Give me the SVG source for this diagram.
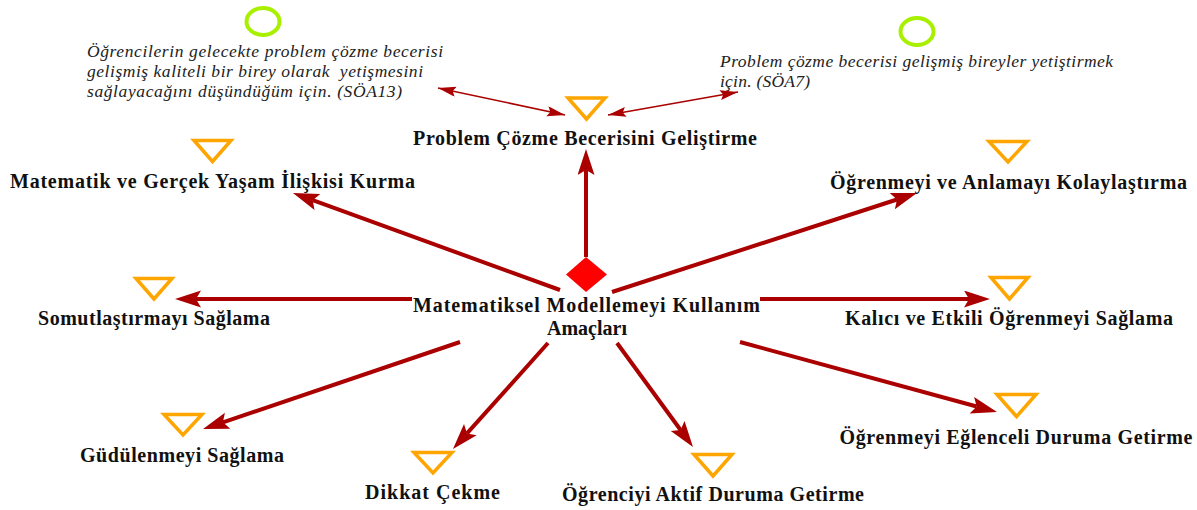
<svg xmlns="http://www.w3.org/2000/svg" width="1197" height="510" viewBox="0 0 1197 510">
<style>
.lbl{font-family:"Liberation Serif","Times New Roman",serif;font-weight:bold;font-size:20px;fill:#111;text-anchor:middle}
.note{font-family:"Liberation Serif","Times New Roman",serif;font-style:italic;font-size:17.5px;fill:#222}
.tri{fill:none;stroke:#ffa500;stroke-width:3.5}
.ring{fill:none;stroke:#a8f000;stroke-width:4}
.thick{stroke:#aa0000;stroke-width:4;fill:none;marker-end:url(#ah)}
.thin{stroke:#aa0000;stroke-width:1.5;fill:none;marker-start:url(#ahs);marker-end:url(#ahs)}
</style>
<defs>
<marker id="ah" markerUnits="userSpaceOnUse" markerWidth="30" markerHeight="20" refX="5" refY="8.5" orient="auto">
<path d="M0,0 L26,8.5 L0,17 L5,8.5 Z" fill="#aa0000"/>
</marker>
<marker id="ahs" markerUnits="userSpaceOnUse" markerWidth="20" markerHeight="12" refX="18" refY="5" orient="auto-start-reverse">
<path d="M0,0 L18,5 L0,10 L3,5 Z" fill="#aa0000"/>
</marker>
</defs>
<rect width="1197" height="510" fill="#fff"/>
<g id="connectors">
<line class="thick" x1="586" y1="257" x2="586" y2="170"/>
<line class="thick" x1="560" y1="290" x2="312.7" y2="200.2"/>
<line class="thick" x1="412" y1="299" x2="196" y2="299"/>
<line class="thick" x1="612" y1="292" x2="897" y2="199.5"/>
<line class="thick" x1="760" y1="299" x2="969" y2="299"/>
<line class="thick" x1="460" y1="342" x2="222.9" y2="422.3"/>
<line class="thick" x1="548" y1="343" x2="467" y2="433.4"/>
<line class="thick" x1="617" y1="343" x2="680.6" y2="430"/>
<line class="thick" x1="740" y1="342" x2="976.7" y2="406.5"/>
<line class="thin" x1="438" y1="88" x2="565" y2="115"/>
<line class="thin" x1="608" y1="115" x2="738" y2="92"/>
</g>
<g id="center">
<polygon points="586,257 607,274.5 586,292 566,274.5" fill="#ff0000"/>
<text class="lbl" x="586.5" y="312" textLength="347" lengthAdjust="spacing">Matematiksel Modellemeyi Kullanım</text>
<text class="lbl" x="587" y="335" textLength="80" lengthAdjust="spacing">Amaçları</text>
</g>
<g id="note-soa13">
<ellipse class="ring" cx="263" cy="21.5" rx="16.5" ry="13.5"/>
<text class="note" x="87" y="57" textLength="356" lengthAdjust="spacing">Öğrencilerin gelecekte problem çözme becerisi</text>
<text class="note" x="87" y="77" textLength="336" lengthAdjust="spacing" xml:space="preserve">gelişmiş kaliteli bir birey olarak  yetişmesini</text>
<text class="note" x="87" y="97" textLength="315" lengthAdjust="spacing">sağlayacağını düşündüğüm için. (SÖA13)</text>
</g>
<g id="note-soa7">
<ellipse class="ring" cx="917" cy="31.5" rx="16.5" ry="13.5"/>
<text class="note" x="720" y="67" textLength="393" lengthAdjust="spacing">Problem çözme becerisi gelişmiş bireyler yetiştirmek</text>
<text class="note" x="720" y="87" textLength="90" lengthAdjust="spacing">için. (SÖA7)</text>
</g>
<g id="problem">
<polygon class="tri" points="568,98 605,98 586.5,119"/>
<text class="lbl" x="585" y="145" textLength="344" lengthAdjust="spacing">Problem Çözme Becerisini Geliştirme</text>
</g>
<g id="gercek-yasam">
<polygon class="tri" points="194,140.5 231,140.5 212.5,161.5"/>
<text class="lbl" x="212.5" y="188" textLength="405" lengthAdjust="spacing">Matematik ve Gerçek Yaşam İlişkisi Kurma</text>
</g>
<g id="somutlastirma">
<polygon class="tri" points="136,278.5 172,278.5 154,299"/>
<text class="lbl" x="154" y="325" textLength="232" lengthAdjust="spacing">Somutlaştırmayı Sağlama</text>
</g>
<g id="kolaylastirma">
<polygon class="tri" points="989,141.5 1027,141.5 1008,162"/>
<text class="lbl" x="1008.5" y="189" textLength="357" lengthAdjust="spacing">Öğrenmeyi ve Anlamayı Kolaylaştırma</text>
</g>
<g id="kalici">
<polygon class="tri" points="991,277.5 1028,277.5 1009.5,299"/>
<text class="lbl" x="1009" y="325" textLength="328" lengthAdjust="spacing">Kalıcı ve Etkili Öğrenmeyi Sağlama</text>
</g>
<g id="gudulenme">
<polygon class="tri" points="164,414.5 202,414.5 183,435"/>
<text class="lbl" x="182" y="462" textLength="204" lengthAdjust="spacing">Güdülenmeyi Sağlama</text>
</g>
<g id="dikkat">
<polygon class="tri" points="414,452.5 452,452.5 433,473"/>
<text class="lbl" x="432.5" y="499" textLength="135" lengthAdjust="spacing">Dikkat Çekme</text>
</g>
<g id="aktif">
<polygon class="tri" points="694,454.5 732,454.5 713,476"/>
<text class="lbl" x="713" y="501" textLength="302" lengthAdjust="spacing">Öğrenciyi Aktif Duruma Getirme</text>
</g>
<g id="eglenceli">
<polygon class="tri" points="997,394.5 1036,394.5 1016.5,416.5"/>
<text class="lbl" x="1016" y="444" textLength="353" lengthAdjust="spacing">Öğrenmeyi Eğlenceli Duruma Getirme</text>
</g>
</svg>
